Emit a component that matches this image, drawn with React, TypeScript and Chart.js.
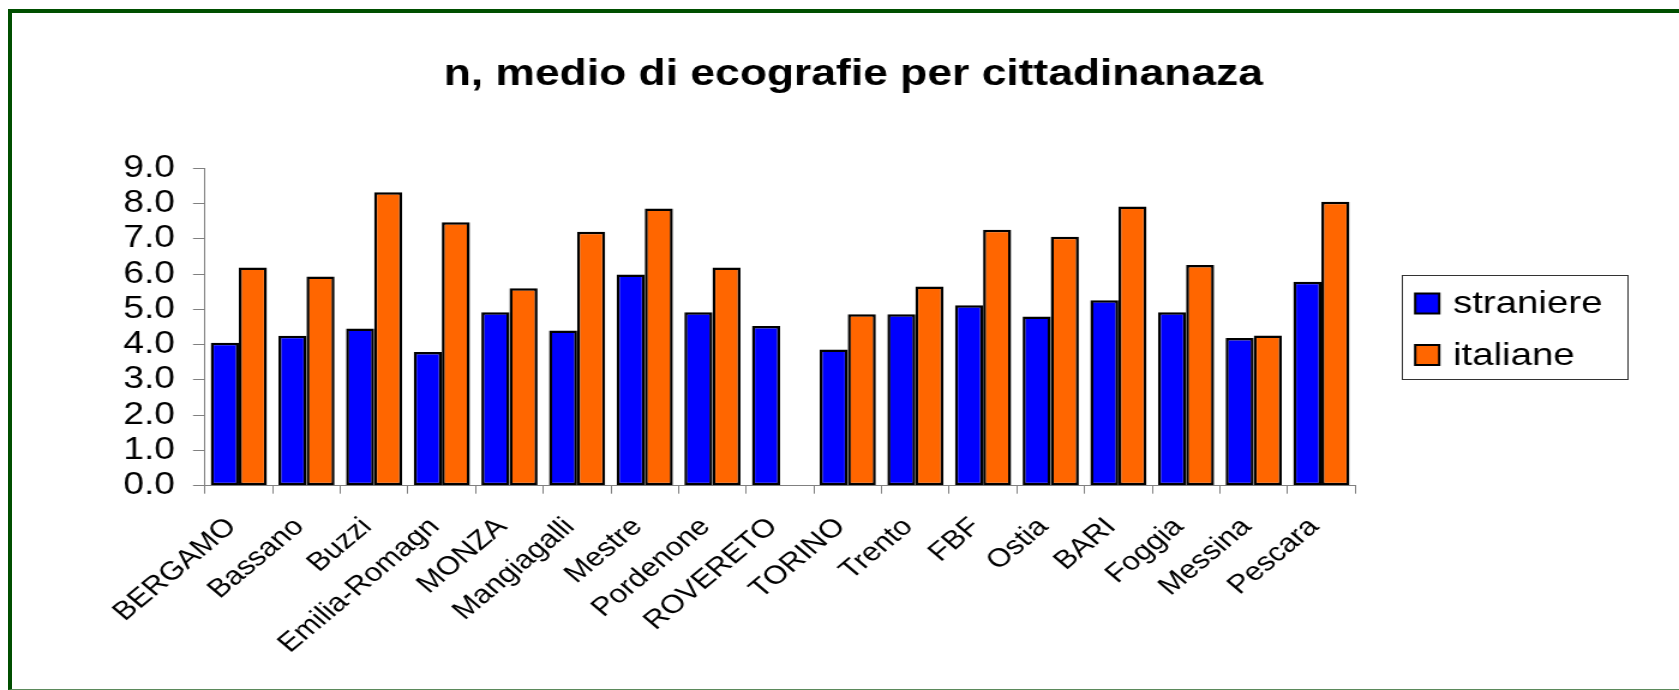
import React, { useEffect, useRef } from "react";
import { Chart, registerables } from "chart.js";

Chart.register(...registerables);

const TITLE = "n, medio di ecografie per cittadinanaza";

const categories = [
  "BERGAMO",
  "Bassano",
  "Buzzi",
  "Emilia-Romagn",
  "MONZA",
  "Mangiagalli",
  "Mestre",
  "Pordenone",
  "ROVERETO",
  "TORINO",
  "Trento",
  "FBF",
  "Ostia",
  "BARI",
  "Foggia",
  "Messina",
  "Pescara",
];

const seriesNames = ["straniere", "italiane"];

const straniere = [4.05, 4.25, 4.46, 3.79, 4.92, 4.4, 5.99, 4.92, 4.53, 3.86, 4.86, 5.12, 4.8, 5.26, 4.92, 4.19, 5.78];
const italiane = [6.19, 5.93, 8.32, 7.47, 5.6, 7.2, 7.86, 6.19, null, 4.86, 5.65, 7.26, 7.06, 7.92, 6.26, 4.26, 8.05];

const yMin = 0;
const yMax = 9;
const yStep = 1;

const FONT = "'Liberation Sans', Arial, Helvetica, sans-serif";
const CANVAS_W = 1399;
const CANVAS_H = 690;
const DISPLAY_W = 1679;

const boxedLegend = {
  id: "boxedLegend",
  afterDraw(chart: any) {
    const { ctx, chartArea } = chart;
    const w = 188;
    const h = 104;
    const left = chartArea.right + 39;
    const top = (chartArea.top + chartArea.bottom) / 2 - h / 2;
    ctx.save();
    ctx.fillStyle = "#ffffff";
    ctx.fillRect(left, top, w, h);
    ctx.strokeStyle = "#333333";
    ctx.lineWidth = 1;
    ctx.strokeRect(Math.round(left) + 0.5, Math.round(top) + 0.5, w, h);
    chart.data.datasets.forEach((ds: any, i: number) => {
      const cy = top + 28.5 + i * 51.5;
      ctx.fillStyle = ds.backgroundColor;
      ctx.fillRect(left + 11, cy - 10, 20, 20);
      ctx.strokeStyle = "#000000";
      ctx.lineWidth = 2;
      ctx.strokeRect(left + 11, cy - 10, 20, 20);
      ctx.fillStyle = "#000000";
      ctx.font = `32px ${FONT}`;
      ctx.textBaseline = "middle";
      ctx.textAlign = "left";
      ctx.fillText(ds.label, left + 42.5, cy + 1);
    });
    ctx.restore();
  },
};

export default function App() {
  const ref = useRef<HTMLCanvasElement>(null);

  useEffect(() => {
    const chart = new Chart(ref.current as HTMLCanvasElement, {
      type: "bar",
      data: {
        labels: categories,
        datasets: [
          {
            label: seriesNames[0],
            data: straniere,
            backgroundColor: "#0000FF",
            borderColor: "#000000",
            borderWidth: 2.5,
            borderSkipped: false,
          },
          {
            label: seriesNames[1],
            data: italiane as any,
            backgroundColor: "#FF6600",
            borderColor: "#000000",
            borderWidth: 2.5,
            borderSkipped: false,
          },
        ],
      },
      options: {
        responsive: false,
        animation: false,
        devicePixelRatio: 1,
        layout: { padding: { left: 103, right: 80, top: 0, bottom: 0 } },
        datasets: { bar: { categoryPercentage: 0.83, barPercentage: 1 } },
        plugins: {
          legend: { display: false },
          tooltip: { enabled: false },
          title: {
            display: true,
            text: TITLE,
            color: "#000000",
            font: { family: FONT, size: 37, weight: "bold", lineHeight: 1.2 },
            padding: { top: 52.8, bottom: 71.1 },
          },
        },
        scales: {
          x: {
            type: "category",
            offset: true,
            grid: {
              display: true,
              offset: true,
              drawOnChartArea: false,
              drawTicks: true,
              tickLength: 8,
              color: "#808080",
              lineWidth: 1,
            },
            border: { display: true, color: "#808080", width: 1 },
            ticks: {
              autoSkip: false,
              minRotation: 45,
              maxRotation: 45,
              padding: 18,
              labelOffset: -6,
              color: "#000000",
              font: { family: FONT, size: 26 },
            },
            afterFit: (s: any) => {
              s.height = 204.3;
            },
          },
          y: {
            type: "linear",
            min: yMin,
            max: yMax,
            ticks: {
              autoSkip: false,
              stepSize: yStep,
              padding: 15,
              color: "#000000",
              font: { family: FONT, size: 31 },
              callback: (v: any) => Number(v).toFixed(1),
            },
            grid: {
              drawOnChartArea: false,
              drawTicks: true,
              tickLength: 10,
              color: "#808080",
            },
            border: { display: true, color: "#808080", width: 1 },
            afterFit: (s: any) => {
              s.width = 67.8;
            },
          },
          legendSpace: {
            type: "linear",
            position: "right",
            display: true,
            grid: { display: false, drawTicks: false },
            border: { display: false },
            ticks: { display: false },
            afterFit: (s: any) => {
              s.width = 189.8;
            },
          },
        },
      } as any,
      plugins: [boxedLegend],
    });
    return () => chart.destroy();
  }, []);

  return (
    <div
      style={{
        position: "fixed",
        left: 0,
        top: 0,
        width: DISPLAY_W,
        height: CANVAS_H,
        overflow: "hidden",
        background: "#ffffff",
      }}
    >
      <div
        style={{
          position: "absolute",
          left: 8,
          top: 9,
          width: 1700,
          height: 676,
          borderLeft: "4px solid #004f00",
          borderTop: "4px solid #004f00",
          borderBottom: "1px solid #5b8a5b",
        }}
      />
      <canvas
        ref={ref}
        width={CANVAS_W}
        height={CANVAS_H}
        style={{ position: "absolute", left: 0, top: 0, width: DISPLAY_W, height: CANVAS_H }}
      />
    </div>
  );
}
